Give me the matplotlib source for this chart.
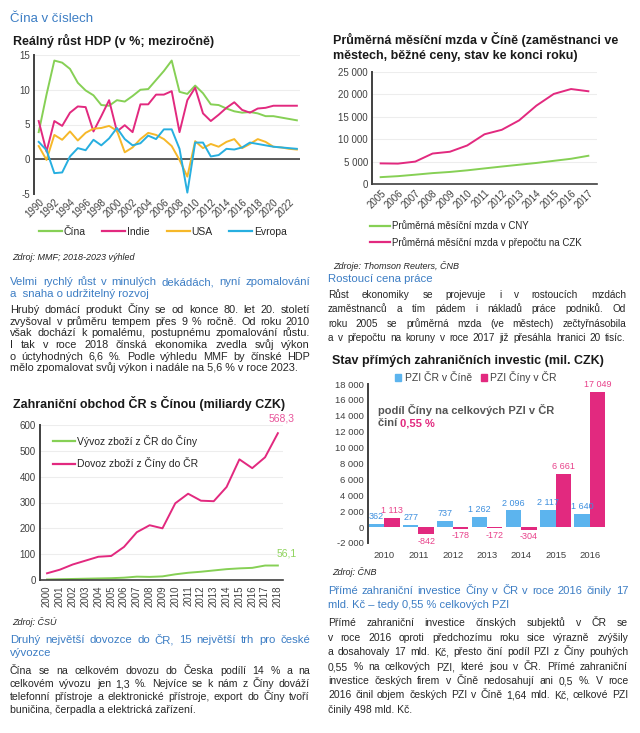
import matplotlib
matplotlib.use("Agg")
import matplotlib.pyplot as plt
from matplotlib.lines import Line2D
from matplotlib.patches import Patch

plt.rcParams["font.family"] = ["Liberation Sans", "DejaVu Sans"]
plt.rcParams["axes.unicode_minus"] = False

# ---- data -------------------------------------------------------------
gdp_years = list(range(1990, 2024))
gdp_china = [3.9, 9.3, 14.2, 13.9, 13.0, 11.0, 9.9, 9.2, 7.8, 7.7,
             8.5, 8.3, 9.1, 10.0, 10.1, 11.4, 12.7, 14.2, 9.7, 9.4,
             10.6, 9.5, 7.9, 7.8, 7.3, 6.9, 6.7, 6.8, 6.6, 6.2,
             6.2, 6.0, 5.8, 5.6]
gdp_india = [5.5, 1.1, 5.5, 4.8, 6.7, 7.6, 7.5, 4.0, 6.2, 8.5,
             4.0, 4.9, 3.9, 7.9, 7.9, 9.3, 9.3, 9.8, 3.9, 8.5,
             10.3, 6.6, 5.5, 6.4, 7.4, 8.2, 7.1, 6.7, 7.3, 7.4,
             7.7, 7.7, 7.7, 7.7]
gdp_usa = [1.9, -0.1, 3.5, 2.8, 4.0, 2.7, 3.8, 4.4, 4.5, 4.8,
           4.1, 1.0, 1.7, 2.9, 3.8, 3.5, 2.9, 1.9, -0.1, -2.5,
           2.6, 1.6, 2.2, 1.8, 2.5, 2.9, 1.6, 2.2, 2.9, 2.5,
           1.8, 1.7, 1.5, 1.4]
gdp_europe = [2.5, 1.3, -2.0, -1.9, 0.4, 1.6, 1.3, 2.8, 2.0, 3.0,
              4.5, 2.9, 2.0, 2.3, 3.4, 2.9, 4.3, 4.3, 1.5, -4.8,
              2.4, 2.4, 0.4, 0.6, 1.5, 1.4, 1.7, 2.4, 2.2, 2.0,
              1.8, 1.7, 1.6, 1.5]
gdp_labels = ["Čína", "Indie", "USA", "Evropa"]

wage_years = list(range(2005, 2018))
wage_cny = [1530, 1750, 2080, 2430, 2690, 3050, 3480, 3900, 4300, 4700, 5170, 5630, 6300]
wage_czk = [4600, 4550, 5000, 6800, 7200, 8600, 11100, 12100, 14200, 17500, 20100, 21200, 20700]
wage_labels = ["Průměrná měsíční mzda v CNY", "Průměrná měsíční mzda v přepočtu na CZK"]

trade_years = list(range(2000, 2019))
trade_export = [2, 3, 4, 5, 6, 7, 9, 13, 12, 14, 22, 28, 32, 37, 42, 45, 47, 56, 56.1]
trade_import = [26, 40, 60, 75, 90, 93, 128, 185, 212, 200, 297, 334, 307, 305, 360, 467, 433, 475, 568.3]
trade_labels = ["Vývoz zboží z ČR do Číny", "Dovoz zboží z Číny do ČR"]

fdi_years = ["2010", "2011", "2012", "2013", "2014", "2015", "2016"]
fdi_cz_in_cn = [362, 277, 737, 1262, 2096, 2117, 1640]
fdi_cn_in_cz = [1113, -842, -178, -172, -304, 6661, 17049]
fdi_labels = ["PZI ČR v Číně", "PZI Číny v ČR"]

# ---- colours ----------------------------------------------------------
GREEN = "#86d055"
PINK = "#e2297f"
YELLOW = "#f6b829"
CYAN = "#27afe0"
LBLUE = "#5cb4ee"
HEAD = "#3c7dc4"
TXT = "#262626"
TICK = "#404040"

W, H = 640, 733
fig = plt.figure(figsize=(W / 100, H / 100), dpi=100)
fig.patch.set_facecolor("white")
renderer = fig.canvas.get_renderer()


def px(x, y):
    return x / W, 1 - y / H


def text_width(s, size, weight="normal"):
    t = fig.text(0, 0, s, fontsize=size, fontweight=weight)
    w = t.get_window_extent(renderer).width
    t.remove()
    return w


def line_text(x, y, s, size, color, weight="normal"):
    # y is the visual centre of the line in pixels; place on a common baseline
    base = y + 0.3 * size * 100 / 72
    fig.text(*px(x, base), s, fontsize=size, color=color, fontweight=weight, va="baseline")


def paragraph(lines, x0, x1, ys, size, color, justify_last=False):
    """Justified block of text, one entry of ys per line (pixel centres)."""
    widest = max(text_width(l, size) for l in lines)
    if widest > (x1 - x0) * 0.97:
        size *= (x1 - x0) * 0.97 / widest
    for i, (line, y) in enumerate(zip(lines, ys)):
        words = line.split()
        last = i == len(lines) - 1 and not justify_last
        if last or len(words) == 1:
            line_text(x0, y, line, size, color)
            continue
        ws = [text_width(w, size) for w in words]
        gap = (x1 - x0 - sum(ws)) / (len(words) - 1)
        x = x0
        for w, wd in zip(words, ws):
            line_text(x, y, w, size, color)
            x += wd + gap


def style_axes(ax):
    for s in ("top", "right", "bottom"):
        ax.spines[s].set_visible(False)
    ax.spines["left"].set_color(TICK)
    ax.spines["left"].set_linewidth(1.4)
    ax.tick_params(length=0, labelsize=7, colors=TICK, pad=3)
    ax.set_facecolor("none")


def thousands(v):
    return f"{v:,.0f}".replace(",", " ")


# ---- top-left: GDP ----------------------------------------------------
line_text(10, 18, "Čína v číslech", 9.5, HEAD)
line_text(13, 41, "Reálný růst HDP (v %; meziročně)", 9, "#1a1a1a", "bold")

ax1 = fig.add_axes([34 / W, 1 - 194 / H, 266 / W, 139 / H])
style_axes(ax1)
ax1.grid(axis="y", color="#ededed", lw=0.8)
ax1.set_axisbelow(True)
ax1.axhline(0, color=TICK, lw=1.2)
for vals, c in zip([gdp_china, gdp_india, gdp_usa, gdp_europe], [GREEN, PINK, YELLOW, CYAN]):
    ax1.plot(gdp_years, vals, color=c, lw=1.4)
ax1.set_ylim(-5, 15)
ax1.set_yticks([-5, 0, 5, 10, 15])
ax1.set_xlim(1989.4, 2023.4)
ax1.set_xticks(list(range(1990, 2023, 2)))
ax1.set_xticklabels([str(y) for y in range(1990, 2023, 2)], rotation=45,
                    ha="right", rotation_mode="anchor")
ax1.tick_params(axis="x", pad=2)
fig.legend([Line2D([], [], color=c, lw=1.6) for c in [GREEN, PINK, YELLOW, CYAN]],
           gdp_labels, loc="center", bbox_to_anchor=px(163, 232), ncol=4,
           frameon=False, fontsize=7.5, handlelength=2.2, handletextpad=0.2,
           columnspacing=1.6, labelcolor=TXT)
fig.text(*px(12, 258), "Zdroj: MMF; 2018-2023 výhled", fontsize=6.5,
         fontstyle="italic", color=TXT, va="center")

paragraph(["Velmi rychlý růst v minulých dekádách, nyní zpomalování",
           "a  snaha o udržitelný rozvoj"], 10, 310, [282, 294], 8.2, HEAD)
paragraph(["Hrubý domácí produkt Číny se od konce 80. let 20. století",
           "zvyšoval v průměru tempem přes 9 % ročně. Od roku 2010",
           "však dochází k pomalému, postupnému zpomalování růstu.",
           "I tak v roce 2018 čínská ekonomika zvedla svůj výkon",
           "o úctyhodných 6,6 %. Podle výhledu MMF by čínské HDP",
           "mělo zpomalovat svůj výkon i nadále na 5,6 % v roce 2023."],
          10, 310, [310, 321.5, 333, 345, 356.5, 368], 7.8, TXT)

# ---- bottom-left: trade -----------------------------------------------
line_text(13, 404, "Zahraniční obchod ČR s Čínou (miliardy CZK)", 9, "#1a1a1a", "bold")
ax3 = fig.add_axes([40 / W, 1 - 580 / H, 243 / W, 155 / H])
style_axes(ax3)
ax3.spines["bottom"].set_visible(True)
ax3.spines["bottom"].set_color(TICK)
ax3.spines["bottom"].set_linewidth(1.2)
ax3.grid(axis="y", color="#ededed", lw=0.8)
ax3.set_axisbelow(True)
ax3.plot(trade_years, trade_export, color=GREEN, lw=1.4)
ax3.plot(trade_years, trade_import, color=PINK, lw=1.4)
ax3.set_ylim(0, 600)
ax3.set_yticks(range(0, 601, 100))
ax3.set_xlim(1999.45, 2018.4)
ax3.set_xticks(trade_years)
ax3.set_xticklabels([str(y) for y in trade_years], rotation=90)
ax3.tick_params(axis="x", pad=4)
ax3.annotate(f"{trade_import[-1]:.1f}".replace(".", ","), xy=(trade_years[-1], trade_import[-1]),
             xytext=(3, 7), textcoords="offset points", ha="center", va="bottom",
             fontsize=7.5, color="#e8559a")
ax3.annotate(f"{trade_export[-1]:.1f}".replace(".", ","), xy=(trade_years[-1], trade_export[-1]),
             xytext=(6, 5), textcoords="offset points", ha="center", va="bottom",
             fontsize=7.5, color="#8fd35d")
ax3.legend([Line2D([], [], color=c, lw=1.6) for c in [GREEN, PINK]], trade_labels,
           loc="center left", bbox_to_anchor=px(48, 452), bbox_transform=fig.transFigure,
           frameon=False, fontsize=7.5, handlelength=2.1, handletextpad=0.2,
           labelspacing=1.0, labelcolor=TXT, borderpad=0)
fig.text(*px(12, 622), "Zdroj: ČSÚ", fontsize=6.5, fontstyle="italic", color=TXT, va="center")

paragraph(["Druhý největší dovozce do ČR, 15 největší trh pro české",
           "vývozce"], 10, 310, [640, 653], 8.2, HEAD)
paragraph(["Čína se na celkovém dovozu do Česka podílí 14 % a na",
           "celkovém vývozu jen 1,3 %. Nejvíce se k nám z Číny dováží",
           "telefonní přístroje a elektronické přístroje, export do Číny tvoří",
           "buničina, čerpadla a elektrická zařízení."],
          10, 310, [671, 684, 697, 710], 7.8, TXT)

# ---- top-right: wages -------------------------------------------------
line_text(333, 40, "Průměrná měsíční mzda v Číně (zaměstnanci ve", 9, "#1a1a1a", "bold")
line_text(333, 55, "městech, běžné ceny, stav ke konci roku)", 9, "#1a1a1a", "bold")
ax2 = fig.add_axes([372 / W, 1 - 184 / H, 225 / W, 112 / H])
style_axes(ax2)
ax2.spines["bottom"].set_visible(True)
ax2.spines["bottom"].set_color(TICK)
ax2.spines["bottom"].set_linewidth(1.2)
ax2.grid(axis="y", color="#ededed", lw=0.8)
ax2.set_axisbelow(True)
ax2.plot(wage_years, wage_cny, color=GREEN, lw=1.4)
ax2.plot(wage_years, wage_czk, color=PINK, lw=1.4)
ax2.set_ylim(0, 25000)
ax2.set_yticks(range(0, 25001, 5000))
ax2.set_yticklabels([thousands(v) for v in range(0, 25001, 5000)])
ax2.set_xlim(2004.5, 2017.5)
ax2.set_xticks(wage_years)
ax2.set_xticklabels([str(y) for y in wage_years], rotation=45, ha="right",
                    rotation_mode="anchor")
ax2.tick_params(axis="x", pad=3)
fig.legend([Line2D([], [], color=c, lw=1.6) for c in [GREEN, PINK]], wage_labels,
           loc="center left", bbox_to_anchor=px(365, 234.5), frameon=False,
           fontsize=7, handlelength=2.1, handletextpad=0.15, labelspacing=0.55,
           labelcolor=TXT, borderpad=0)
fig.text(*px(333, 266), "Zdroje: Thomson Reuters, ČNB", fontsize=6.5,
         fontstyle="italic", color=TXT, va="center")

paragraph(["Rostoucí cena práce"], 328, 628, [279], 8.2, HEAD)
paragraph(["Růst ekonomiky se projevuje i v rostoucích mzdách",
           "zaměstnanců a tím pádem i nákladů práce podniků. Od",
           "roku 2005 se průměrná mzda (ve městech) zečtyřnásobila",
           "a  v  přepočtu na koruny v roce 2017 již přesáhla hranici 20 tisíc."],
          328, 626, [295, 309, 323.5, 338], 7.8, TXT, justify_last=True)

# ---- bottom-right: FDI ------------------------------------------------
line_text(332, 360, "Stav přímých zahraničních investic (mil. CZK)", 9, "#1a1a1a", "bold")
ax4 = fig.add_axes([368 / W, 1 - 543 / H, 239 / W, 159 / H])
style_axes(ax4)
ax4.tick_params(labelsize=6.8)
pos = list(range(len(fdi_years)))
bw = 0.45
b1 = ax4.bar([p - bw / 2 for p in pos], fdi_cz_in_cn, width=bw, color=LBLUE)
b2 = ax4.bar([p + bw / 2 for p in pos], fdi_cn_in_cz, width=bw, color=PINK)
ax4.bar_label(b1, labels=[thousands(v) for v in fdi_cz_in_cn], padding=2,
              fontsize=6.5, color="#3d8fde")
ax4.bar_label(b2, labels=[thousands(v) for v in fdi_cn_in_cz], padding=2,
              fontsize=6.5, color="#e8418a")
ax4.set_ylim(-2000, 18000)
ax4.set_yticks(range(-2000, 18001, 2000))
ax4.set_yticklabels([thousands(v) for v in range(-2000, 18001, 2000)])
ax4.set_xlim(-0.47, 6.5)
ax4.set_xticks(pos)
ax4.set_xticklabels(fdi_years)
ax4.tick_params(axis="x", pad=6)
fig.legend([Patch(color=LBLUE), Patch(color=PINK)], fdi_labels, loc="center",
           bbox_to_anchor=px(476, 377), ncol=2, frameon=False, fontsize=7.5,
           handlelength=0.6, handleheight=0.6, handletextpad=0.3,
           columnspacing=0.9, labelcolor="#404040")
line_text(378, 411, "podíl Číny na celkových PZI v ČR", 8, "#555555", "bold")
line_text(378, 423, "činí ", 8, "#555555", "bold")
line_text(378 + text_width("činí ", 8, "bold"), 423, "0,55 %", 8, PINK, "bold")
fig.text(*px(332, 572), "Zdroj: ČNB", fontsize=6.5, fontstyle="italic", color=TXT, va="center")

paragraph(["Přímé zahraniční investice Číny v ČR v roce 2016 činily 17",
           "mld. Kč – tedy 0,55 % celkových PZI"], 328, 628, [591, 605], 8.2, HEAD)
paragraph(["Přímé zahraniční investice čínských subjektů v ČR se",
           "v roce 2016 oproti předchozímu roku sice výrazně zvýšily",
           "a dosahovaly 17 mld. Kč, přesto činí podíl PZI z Číny pouhých",
           "0,55 % na celkových PZI, které jsou v ČR. Přímé zahraniční",
           "investice českých firem v Číně nedosahují ani 0,5 %. V roce",
           "2016 činil objem českých PZI v Číně 1,64 mld. Kč, celkové PZI",
           "činily 498 mld. Kč."],
          328, 628, [623, 638, 652, 667, 681, 695, 710], 7.8, TXT)

fig.savefig("out.png", dpi=100, facecolor="white")
